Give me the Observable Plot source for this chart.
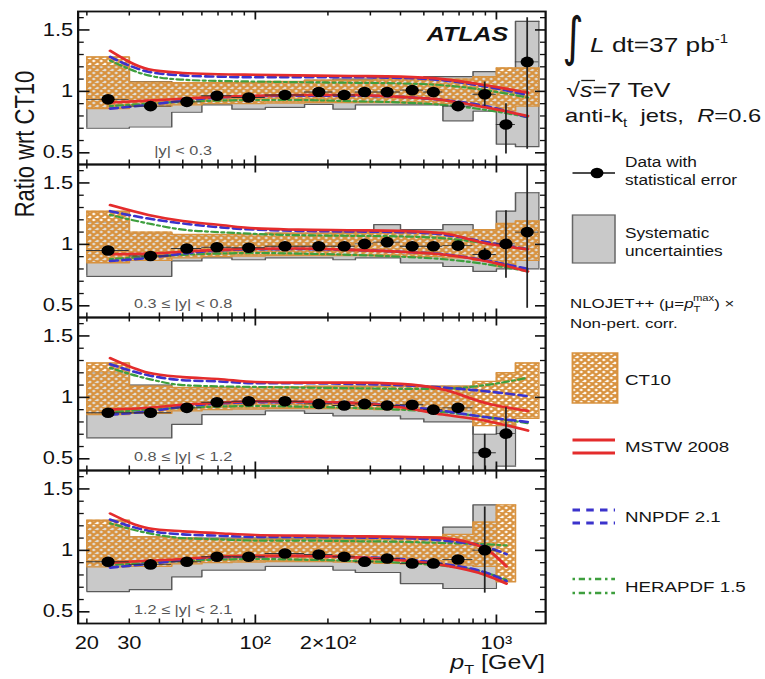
<!DOCTYPE html>
<html>
<head>
<meta charset="utf-8">
<script src="https://cdn.jsdelivr.net/npm/d3@7"></script>
<script src="https://cdn.jsdelivr.net/npm/@observablehq/plot@0.6"></script>
<style>
html,body{margin:0;padding:0;background:#fff;overflow:hidden;}
#stage{position:relative;width:612px;height:679px;transform:scaleX(1.25);transform-origin:0 0;font-family:"Liberation Sans",Arial,Helvetica,sans-serif;}
#stage svg{position:absolute;left:0;top:0;}
</style>
</head>
<body>
<div id="stage"></div>
<script>
// ---------------- data ----------------
const ptEdges = [20,30,45,60,80,110,160,210,260,310,400,500,600,800,1000,1200,1500];
const etaLabels = ["|y| < 0.3","0.3 ≤ |y| < 0.8","0.8 ≤ |y| < 1.2","1.2 ≤ |y| < 2.1"];
const xTickValues = [20,30,100,200,1000];
const xTickLabels = ["20","30","10²","2×10²","10³"];
const yTickValues = [0.5,1,1.5];
const yTickLabels = ["0.5","1","1.5"];
const xMinorTicks = [20,30,40,50,60,70,80,90,200,300,400,500,600,700,800,900];
const xMajorTicks = [100,1000];
const yMinorTicks = [0.6,0.7,0.8,0.9,1.1,1.2,1.3,1.4,1.6];
const yMajorTicks = [0.5,1,1.5];

// measured ratio data / CT10
const dataRatio = [
  [0.935,0.88,0.915,0.965,0.95,0.97,0.995,0.97,0.995,0.995,1.01,0.995,0.88,0.977,0.73,1.24],
  [0.95,0.905,0.967,0.977,0.972,0.985,0.985,0.985,1.004,1.018,0.985,0.985,0.99,0.918,1.004,1.10],
  [0.875,0.875,0.915,0.96,0.968,0.968,0.947,0.934,0.947,0.934,0.94,0.90,0.915,0.55,0.705],
  [0.907,0.886,0.907,0.948,0.948,0.975,0.967,0.948,0.907,0.934,0.894,0.894,0.926,1.002]
];
const statUp = [
  [0.005,0.005,0.005,0.005,0.005,0.005,0.006,0.007,0.009,0.01,0.012,0.02,0.03,0.1,0.17,0.36],
  [0.005,0.005,0.005,0.005,0.005,0.005,0.006,0.007,0.009,0.01,0.012,0.02,0.03,0.05,0.27,0.6],
  [0.005,0.005,0.005,0.005,0.005,0.005,0.006,0.007,0.009,0.01,0.012,0.02,0.03,0.15,0.21],
  [0.005,0.005,0.005,0.005,0.005,0.005,0.006,0.007,0.009,0.01,0.012,0.02,0.03,0.35]
];
const statDown = [
  [0.005,0.005,0.005,0.005,0.005,0.005,0.006,0.007,0.009,0.01,0.012,0.02,0.03,0.1,0.24,0.71],
  [0.005,0.005,0.005,0.005,0.005,0.005,0.006,0.007,0.009,0.01,0.012,0.02,0.03,0.05,0.28,0.62],
  [0.005,0.005,0.005,0.005,0.005,0.005,0.006,0.007,0.009,0.01,0.012,0.02,0.03,0.2,0.35],
  [0.005,0.005,0.005,0.005,0.005,0.005,0.006,0.007,0.009,0.01,0.012,0.02,0.03,0.35]
];
// systematic uncertainty band (per bin)
const systLow = [
  [0.70,0.71,0.83,0.89,0.855,0.87,0.895,0.855,0.89,0.89,0.89,0.89,0.76,0.84,0.57,0.55],
  [0.74,0.74,0.865,0.89,0.875,0.89,0.89,0.875,0.89,0.89,0.85,0.85,0.82,0.78,0.80,0.80],
  [0.67,0.67,0.78,0.86,0.86,0.89,0.87,0.85,0.85,0.85,0.825,0.80,0.80,0.35,0.44],
  [0.665,0.68,0.785,0.84,0.84,0.87,0.87,0.84,0.82,0.82,0.73,0.73,0.69,0.69]
];
const systHigh = [
  [1.21,1.08,1.07,1.07,1.07,1.08,1.09,1.10,1.10,1.11,1.11,1.12,1.12,1.16,1.14,1.57],
  [1.18,1.09,1.08,1.08,1.08,1.09,1.09,1.10,1.10,1.16,1.12,1.12,1.16,1.12,1.27,1.42],
  [1.20,1.10,1.08,1.08,1.08,1.08,1.08,1.09,1.09,1.09,1.09,1.09,1.09,0.70,0.78],
  [1.19,1.11,1.10,1.10,1.10,1.10,1.10,1.10,1.10,1.10,1.10,1.11,1.19,1.37]
];
// CT10 theory uncertainty band (per bin)
const ct10Low = [
  [0.86,0.88,0.89,0.90,0.90,0.905,0.91,0.91,0.91,0.91,0.905,0.90,0.90,0.89,0.84,0.88],
  [0.85,0.87,0.89,0.90,0.905,0.91,0.91,0.91,0.91,0.905,0.90,0.90,0.89,0.87,0.82,0.87],
  [0.86,0.87,0.89,0.90,0.905,0.91,0.91,0.91,0.905,0.90,0.90,0.89,0.89,0.77,0.77,0.83],
  [0.866,0.87,0.89,0.90,0.905,0.91,0.91,0.905,0.90,0.895,0.89,0.885,0.88,0.87,0.745]
];
const ct10High = [
  [1.28,1.075,1.07,1.07,1.07,1.08,1.09,1.09,1.09,1.10,1.10,1.10,1.10,1.12,1.19,1.19],
  [1.27,1.10,1.08,1.08,1.08,1.09,1.09,1.09,1.095,1.10,1.10,1.10,1.10,1.12,1.17,1.19],
  [1.28,1.09,1.08,1.08,1.08,1.085,1.09,1.09,1.09,1.09,1.09,1.09,1.09,1.13,1.20,1.28],
  [1.245,1.11,1.10,1.09,1.09,1.09,1.09,1.09,1.09,1.10,1.10,1.11,1.13,1.23,1.37]
];
// PDF set envelopes (ratio to CT10)
const curvePt = [
  [25,36,50,70,100,150,250,400,600,900,1350],
  [25,36,50,70,100,150,250,400,600,900,1350],
  [25,36,50,70,100,150,250,400,600,900,1350],
  [25,36,50,70,100,150,250,400,600,900,1100]
];
const mstwHigh = [
  [1.33,1.18,1.15,1.14,1.135,1.13,1.125,1.12,1.10,1.05,0.99],
  [1.32,1.24,1.19,1.16,1.13,1.12,1.115,1.11,1.09,1.01,0.96],
  [1.32,1.20,1.165,1.15,1.125,1.12,1.12,1.11,1.064,0.955,0.89],
  [1.30,1.18,1.155,1.14,1.125,1.12,1.115,1.11,1.10,1.015,0.87]
];
const mstwLow = [
  [0.91,0.925,0.94,0.955,0.965,0.97,0.97,0.955,0.93,0.87,0.80],
  [0.92,0.925,0.94,0.955,0.965,0.967,0.955,0.94,0.918,0.864,0.78],
  [0.90,0.915,0.94,0.955,0.968,0.965,0.955,0.92,0.86,0.81,0.73],
  [0.90,0.915,0.93,0.95,0.955,0.955,0.945,0.92,0.88,0.80,0.73]
];
const nnpdfHigh = [
  [1.28,1.16,1.13,1.12,1.115,1.115,1.115,1.11,1.09,1.04,0.97],
  [1.27,1.21,1.17,1.14,1.12,1.11,1.105,1.10,1.08,1.02,0.96],
  [1.27,1.18,1.14,1.13,1.115,1.115,1.11,1.10,1.08,1.05,1.01],
  [1.25,1.16,1.13,1.12,1.11,1.11,1.105,1.10,1.08,1.03,0.97]
];
const nnpdfLow = [
  [0.86,0.89,0.925,0.95,0.96,0.965,0.965,0.955,0.93,0.88,0.79],
  [0.865,0.89,0.925,0.95,0.96,0.962,0.955,0.94,0.92,0.87,0.80],
  [0.86,0.885,0.925,0.95,0.96,0.96,0.955,0.93,0.89,0.84,0.80],
  [0.86,0.89,0.92,0.945,0.95,0.955,0.945,0.93,0.89,0.82,0.75]
];
const heraHigh = [
  [1.25,1.13,1.095,1.085,1.08,1.075,1.07,1.065,1.05,1.01,0.95],
  [1.24,1.17,1.12,1.10,1.085,1.075,1.07,1.065,1.05,1.01,0.96],
  [1.24,1.15,1.10,1.09,1.085,1.08,1.075,1.07,1.07,1.10,1.16],
  [1.22,1.14,1.10,1.09,1.08,1.08,1.075,1.07,1.06,1.05,1.04]
];
const heraLow = [
  [0.88,0.90,0.915,0.925,0.93,0.93,0.92,0.91,0.89,0.85,0.79],
  [0.88,0.90,0.915,0.925,0.93,0.925,0.915,0.90,0.88,0.84,0.78],
  [0.88,0.90,0.915,0.925,0.93,0.925,0.915,0.90,0.88,0.84,0.79],
  [0.88,0.90,0.915,0.925,0.93,0.925,0.915,0.90,0.875,0.82,0.76]
];

// ---------------- layout ----------------
const W0 = 612, H0 = 679;
const mTop = 10, mRight = 176, mBottom = 55, mLeft = 62;
const frameW = W0 - mLeft - mRight;
const facetH = (H0 - mTop - mBottom) / 4;

const RED = "#e42c2c", BLUE = "#3b33cc", GREEN = "#3e9f3e", ORANGE = "#d8923f";

// ---------------- tables ----------------
function bandRows(lo, hi) {
  const rows = [];
  lo.forEach((arr, p) => {
    arr.forEach((v, i) => rows.push({panel: p, x: ptEdges[i], lo: v, hi: hi[p][i]}));
    const n = arr.length;
    rows.push({panel: p, x: ptEdges[n], lo: arr[n - 1], hi: hi[p][n - 1]});
  });
  return rows;
}
function bandEnds(lo, hi) {
  const rows = [];
  lo.forEach((arr, p) => {
    const n = arr.length;
    rows.push({panel: p, x: ptEdges[0], lo: arr[0], hi: hi[p][0]});
    rows.push({panel: p, x: ptEdges[n], lo: arr[n - 1], hi: hi[p][n - 1]});
  });
  return rows;
}
const systRows = bandRows(systLow, systHigh);
const systEnds = bandEnds(systLow, systHigh);
const ctRows = bandRows(ct10Low, ct10High);
const ctEnds = bandEnds(ct10Low, ct10High);
const pointRows = dataRatio.flatMap((arr, p) => arr.map((v, i) => ({
  panel: p, x: Math.sqrt(ptEdges[i] * ptEdges[i + 1]), x1: ptEdges[i], x2: ptEdges[i + 1],
  v, lo: v - statDown[p][i], hi: v + statUp[p][i]
})));
const curveRows = curvePt.flatMap((pts, p) => pts.map((pt, i) => ({
  panel: p, pt,
  mstwHi: mstwHigh[p][i], mstwLo: mstwLow[p][i],
  nnHi: nnpdfHigh[p][i], nnLo: nnpdfLow[p][i],
  heraHi: heraHigh[p][i], heraLo: heraLow[p][i]
})));
const labelRows = etaLabels.map((t, p) => ({panel: p, t}));

function curve(field, stroke, width, dash) {
  return Plot.lineY(curveRows, {x: "pt", y: field, fy: "panel", stroke, strokeWidth: width,
    strokeDasharray: dash, curve: "monotone-x", clip: true});
}

const chart = Plot.plot({
  width: W0, height: H0,
  marginTop: mTop, marginRight: mRight, marginBottom: mBottom, marginLeft: mLeft,
  style: {fontFamily: "Liberation Sans, Arial, Helvetica, sans-serif", fontSize: "17.5px", color: "#111", background: "transparent"},
  x: {type: "log", domain: [18.4, 1600], ticks: xTickValues,
      tickFormat: d => xTickLabels[xTickValues.indexOf(d)], tickSize: 0, tickPadding: 13, label: null},
  y: {domain: [0.405, 1.65], ticks: yTickValues,
      tickFormat: d => yTickLabels[yTickValues.indexOf(d)], tickSize: 0, tickPadding: 4, label: null},
  fy: {domain: [0, 1, 2, 3], padding: 0, axis: null},
  marks: [
    // systematic band
    Plot.areaY(systRows, {x: "x", y1: "lo", y2: "hi", fy: "panel", curve: "step-after", fill: "#c9c9c9", clip: true}),
    Plot.lineY(systRows, {x: "x", y: "lo", fy: "panel", curve: "step-after", stroke: "#5a5a5a", strokeWidth: 1.2, clip: true}),
    Plot.lineY(systRows, {x: "x", y: "hi", fy: "panel", curve: "step-after", stroke: "#5a5a5a", strokeWidth: 1.2, clip: true}),
    Plot.ruleX(systEnds, {x: "x", y1: "lo", y2: "hi", fy: "panel", stroke: "#5a5a5a", strokeWidth: 1, clip: true}),
    // CT10 hatched band
    Plot.areaY(ctRows, {x: "x", y1: "lo", y2: "hi", fy: "panel", curve: "step-after", fill: "url(#ct10hatch)", clip: true}),
    Plot.lineY(ctRows, {x: "x", y: "lo", fy: "panel", curve: "step-after", stroke: ORANGE, strokeWidth: 1.4, clip: true}),
    Plot.lineY(ctRows, {x: "x", y: "hi", fy: "panel", curve: "step-after", stroke: ORANGE, strokeWidth: 1.4, clip: true}),
    Plot.ruleX(ctEnds, {x: "x", y1: "lo", y2: "hi", fy: "panel", stroke: ORANGE, strokeWidth: 1.2, clip: true}),
    // PDF envelopes
    curve("heraHi", GREEN, 2.2, "2,3,5,3"),
    curve("heraLo", GREEN, 2.2, "2,3,5,3"),
    curve("nnHi", BLUE, 2.6, "6,4"),
    curve("nnLo", BLUE, 2.6, "6,4"),
    curve("mstwHi", RED, 2.6, null),
    curve("mstwLo", RED, 2.6, null),
    // data
    Plot.ruleY(pointRows, {y: "v", x1: "x1", x2: "x2", fy: "panel", stroke: "#333", strokeWidth: 0.9, clip: true}),
    Plot.ruleX(pointRows, {x: "x", y1: "lo", y2: "hi", fy: "panel", stroke: "#222", strokeWidth: 1.4, clip: true}),
    Plot.dot(pointRows, {x: "x", y: "v", fy: "panel", r: 5.3, fill: "#000", clip: true}),
    // texts
    Plot.text(labelRows, {fy: "panel", text: "t", frameAnchor: "bottom-left", dx: 84, dy: -10,
      textAnchor: "middle", lineAnchor: "bottom", fontSize: 13, fill: "#555"}),
    Plot.text([{panel: 0, t: "ATLAS"}], {fy: "panel", text: "t", frameAnchor: "top-right", dx: -30, dy: 29,
      textAnchor: "end", lineAnchor: "bottom", fontSize: 20, fontWeight: "bold", fontStyle: "italic", fill: "#111"}),
    // inward ticks
    Plot.tickY(yMinorTicks, {y: d => d, insetRight: frameW - 5, stroke: "#111", strokeWidth: 1.3}),
    Plot.tickY(yMajorTicks, {y: d => d, insetRight: frameW - 9.6, stroke: "#111", strokeWidth: 1.6}),
    Plot.tickY(yMinorTicks, {y: d => d, insetLeft: frameW - 4, stroke: "#111", strokeWidth: 1.3}),
    Plot.tickY(yMajorTicks, {y: d => d, insetLeft: frameW - 8, stroke: "#111", strokeWidth: 1.6}),
    Plot.tickX(xMinorTicks, {x: d => d, insetBottom: facetH - 5, stroke: "#111", strokeWidth: 1.2}),
    Plot.tickX(xMajorTicks, {x: d => d, insetBottom: facetH - 9, stroke: "#111", strokeWidth: 1.4}),
    Plot.tickX(xMinorTicks, {x: d => d, insetTop: facetH - 5, stroke: "#111", strokeWidth: 1.2}),
    Plot.tickX(xMajorTicks, {x: d => d, insetTop: facetH - 9, stroke: "#111", strokeWidth: 1.4}),
    Plot.frame({stroke: "#111", strokeWidth: 1.8})
  ]
});

const stage = document.getElementById("stage");
stage.appendChild(chart);

// ---------------- overlay: pattern, labels, legend ----------------
const ov = d3.select(stage).append("svg")
  .attr("width", W0).attr("height", H0)
  .style("pointer-events", "none")
  .attr("font-family", "Liberation Sans, Arial, Helvetica, sans-serif");

const pat = ov.append("defs").append("pattern")
  .attr("id", "ct10hatch").attr("patternUnits", "userSpaceOnUse")
  .attr("width", 6).attr("height", 6);
pat.append("rect").attr("width", 6).attr("height", 6).attr("fill", "rgba(255,248,235,0.45)");
pat.append("path").attr("d", "M0,0L6,6M6,0L0,6M-1,1L1,-1M5,7L7,5M-1,5L1,7M5,-1L7,1")
  .attr("stroke", ORANGE).attr("stroke-width", 2.1).attr("fill", "none");

function addText(x, y, size, parts, anchor) {
  const t = ov.append("text").attr("x", x).attr("y", y).attr("font-size", size)
    .attr("fill", "#151515").attr("text-anchor", anchor || "start").style("white-space", "pre");
  parts.forEach(p => {
    const s = t.append("tspan").text(p.t);
    if (p.i) s.attr("font-style", "italic");
    if (p.dy) s.attr("dy", p.dy);
    if (p.dx) s.attr("dx", p.dx);
    if (p.fs) s.attr("font-size", p.fs);
  });
  return t;
}

// axis titles
ov.append("text").attr("transform", "translate(21,144) rotate(-90)")
  .attr("text-anchor", "middle").attr("dominant-baseline", "middle")
  .attr("font-size", 22).attr("fill", "#151515").text("Ratio wrt CT10");
addText(436, 669, 20, [{t: "p", i: true}, {t: "T", fs: 13, dy: 5}, {t: " [GeV]", dy: -5}], "end");

// luminosity & conditions
ov.append("text").attr("transform", "translate(450,55) scale(0.72,1.18)").attr("font-size", 45)
  .attr("font-family", "DejaVu Sans, sans-serif").attr("fill", "#151515").text("∫");
addText(472, 52, 21, [{t: "L", i: true}, {t: " dt=37 pb"}, {t: "-1", fs: 12, dy: -9}]);
addText(453, 97, 20, [{t: "√"}, {t: "s", i: true}, {t: "=7 TeV"}]);
ov.append("line").attr("x1", 465).attr("x2", 476).attr("y1", 80.5).attr("y2", 80.5)
  .attr("stroke", "#151515").attr("stroke-width", 1.3);
addText(452, 122, 19, [{t: "anti-k"}, {t: "t", fs: 12, dy: 5}, {t: "  jets,  ", dy: -5}, {t: "R", i: true}, {t: "=0.6"}]);

// legend: data
ov.append("line").attr("x1", 458).attr("x2", 492).attr("y1", 173).attr("y2", 173)
  .attr("stroke", "#111").attr("stroke-width", 1.5);
ov.append("circle").attr("cx", 477.6).attr("cy", 173).attr("r", 5.2).attr("fill", "#000");
addText(500, 167, 13.8, [{t: "Data with"}]);
addText(500, 185, 13.8, [{t: "statistical error"}]);
// legend: systematic
ov.append("rect").attr("x", 458).attr("y", 215).attr("width", 34).attr("height", 48)
  .attr("fill", "#c9c9c9").attr("stroke", "#666").attr("stroke-width", 1.2);
addText(500, 238, 13.8, [{t: "Systematic"}]);
addText(500, 256, 13.8, [{t: "uncertainties"}]);
// theory header
addText(456, 308, 13.5, [{t: "NLOJET++ (μ="}, {t: "p", i: true}, {t: "T", fs: 9, dy: 4},
  {t: "max", fs: 9, dx: -6, dy: -11}, {t: ") ×", dy: 7}]);
addText(456, 328, 13.5, [{t: "Non-pert. corr."}]);
// CT10
ov.append("rect").attr("x", 458).attr("y", 353).attr("width", 36).attr("height", 50)
  .attr("fill", "url(#ct10hatch)").attr("stroke", ORANGE).attr("stroke-width", 1.5);
addText(500, 385, 15, [{t: "CT10"}]);
// MSTW
[440, 453].forEach(y => ov.append("line").attr("x1", 458).attr("x2", 492).attr("y1", y).attr("y2", y)
  .attr("stroke", RED).attr("stroke-width", 3));
addText(500, 452, 15, [{t: "MSTW 2008"}]);
// NNPDF
[510, 523].forEach(y => ov.append("line").attr("x1", 458).attr("x2", 492).attr("y1", y).attr("y2", y)
  .attr("stroke", BLUE).attr("stroke-width", 3).attr("stroke-dasharray", "6,5"));
addText(500, 522, 15, [{t: "NNPDF 2.1"}]);
// HERAPDF
[579, 593].forEach(y => ov.append("line").attr("x1", 458).attr("x2", 492).attr("y1", y).attr("y2", y)
  .attr("stroke", GREEN).attr("stroke-width", 2.5).attr("stroke-dasharray", "2,3,5,3"));
addText(500, 592, 15, [{t: "HERAPDF 1.5"}]);
</script>
</body>
</html>
